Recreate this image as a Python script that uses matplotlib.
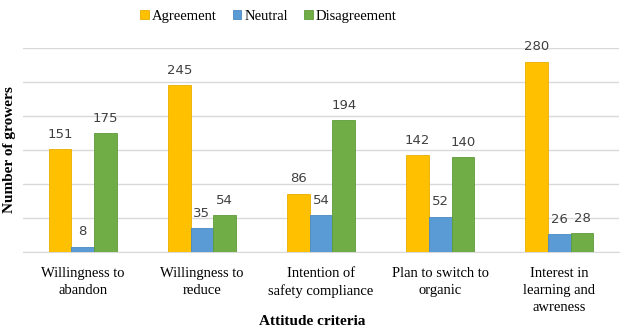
import matplotlib
matplotlib.use("Agg")
from matplotlib import pyplot as plt
import numpy as np

categories = ["Willingness to\nabandon", "Willingness to\nreduce",
              "Intention of\nsafety compliance", "Plan to switch to\norganic",
              "Interest in\nlearning and\nawreness"]
agreement = [151, 245, 86, 142, 280]
neutral = [8, 35, 54, 52, 26]
disagreement = [175, 54, 194, 140, 28]

series = [("Agreement", agreement, "#FFC000", "#E8AE00"),
          ("Neutral", neutral, "#5B9BD5", "#4A88C2"),
          ("Disagreement", disagreement, "#70AD47", "#5E9A3A")]

serif = "Liberation Serif"

fig = plt.figure(figsize=(6.24, 3.29), dpi=100)
ax = fig.add_axes([0.037, 0.234, 0.955, 0.62])

x = np.arange(len(categories))
width = 0.19
for i, (name, vals, color, edge) in enumerate(series):
    pos = x + (i - 1) * width
    bars = ax.bar(pos, vals, width, color=color, edgecolor=edge, linewidth=0.6,
                  label=name, zorder=3)
    for b, v in zip(bars, vals):
        ax.text(b.get_x() + b.get_width() / 2, v + 12, str(v), ha="center",
                va="bottom", fontsize=9.5, color="#404040", family="DejaVu Sans")

ax.set_ylim(0, 300)
ax.set_xlim(-0.5, len(categories) - 0.5)
ax.set_yticks(np.arange(0, 301, 50))
ax.set_yticklabels([])
ax.tick_params(axis="y", length=0)
ax.tick_params(axis="x", length=0, pad=11)
ax.yaxis.grid(True, color="#D9D9D9", linewidth=1, zorder=0)
for s in ["top", "right", "left"]:
    ax.spines[s].set_visible(False)
ax.spines["bottom"].set_color("#D9D9D9")

ax.set_xticks(x)
ax.set_xticklabels(categories, fontsize=10.5, family=serif, linespacing=1.4)
ax.set_xlabel("Attitude criteria", fontsize=11, family=serif, fontweight="bold")
ax.xaxis.set_label_coords(0.485, -0.31)
ax.set_ylabel("Number of growers", fontsize=11, family=serif, fontweight="bold")
ax.yaxis.set_label_coords(-0.012, 0.5)

fig.legend(loc="upper center", bbox_to_anchor=(0.43, 1.01), ncol=3, frameon=False,
           prop={"family": serif, "size": 10.5}, handlelength=0.6, handleheight=0.6,
           handletextpad=0.2, columnspacing=1.1)

fig.savefig("out.png", dpi=100)
